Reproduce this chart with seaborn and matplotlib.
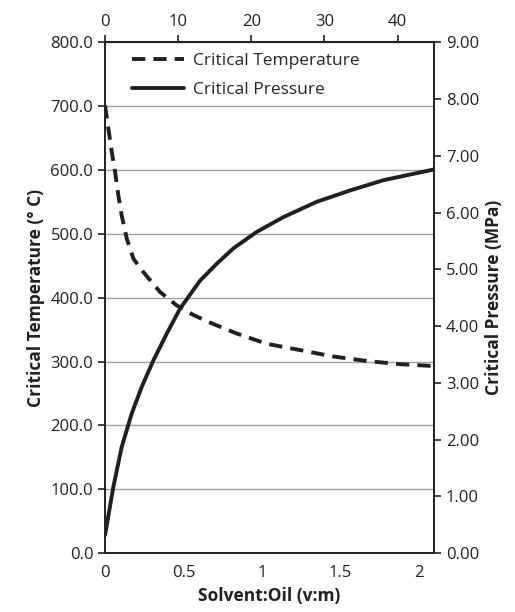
import matplotlib
matplotlib.use("Agg")
import matplotlib.pyplot as plt
import seaborn as sns
import pandas as pd

# values
ratio_t = [0.0, 0.015, 0.043, 0.064, 0.085, 0.106, 0.138, 0.181, 0.245, 0.351,
           0.457, 0.564, 0.66, 0.84, 1.03, 1.245, 1.457, 1.67, 1.88, 2.1]
temp_c = [701, 675, 628, 597, 560, 529, 493, 461, 440, 409,
          388, 373, 362, 344, 328, 318, 308, 301, 296, 293]

ratio_p = [0.0, 0.053, 0.106, 0.170, 0.234, 0.309, 0.394, 0.479, 0.606, 0.713,
           0.819, 0.968, 1.138, 1.351, 1.564, 1.776, 2.1]
press_mpa = [0.32, 1.17, 1.87, 2.46, 2.93, 3.40, 3.87, 4.31, 4.80, 5.10,
             5.37, 5.66, 5.92, 6.19, 6.39, 6.57, 6.76]

top_ticks = [0, 10, 20, 30, 40]

sns.set_style("white")
plt.rcParams['font.family'] = ['Open Sans', 'DejaVu Sans']

dft = pd.DataFrame({"ratio": ratio_t, "temp": temp_c})
dfp = pd.DataFrame({"ratio": ratio_p, "press": press_mpa})

fig = plt.figure(figsize=(5.15, 6.12), dpi=100)
ax = fig.add_axes([0.204, 0.096, 0.639, 0.835])
ax2 = ax.twinx()

sns.lineplot(data=dft, x="ratio", y="temp", ax=ax, color="#231f20", lw=2.8,
             label="Critical Temperature", legend=False)
ax.lines[0].set_dashes([3.4, 2.1])
sns.lineplot(data=dfp, x="ratio", y="press", ax=ax2, color="#231f20", lw=2.8,
             label="Critical Pressure", legend=False)

ax.set_xlim(0, 2.1)
ax.set_ylim(0, 800)
ax2.set_ylim(0, 9)
ax.set_yticks(range(0, 801, 100))
ax.set_yticklabels([f"{v:.1f}" for v in range(0, 801, 100)])
ax2.set_yticks(range(0, 10))
ax2.set_yticklabels([f"{v:.2f}" for v in range(0, 10)])
ax.set_xticks([0, 0.5, 1, 1.5, 2])
ax.set_xticklabels(["0", "0.5", "1", "1.5", "2"])

ax.yaxis.grid(True, color="#a0a0a0", lw=1)
ax.set_axisbelow(True)

top = ax.secondary_xaxis("top", functions=(lambda x: x * 45 / 2.1, lambda x: x * 2.1 / 45))
top.set_xticks(top_ticks)

for a in (ax, ax2):
    for s in a.spines.values():
        s.set_color("#231f20")
        s.set_linewidth(1.2)
for a in (ax, ax2, top):
    a.tick_params(direction="out", length=5, width=1.2, color="#231f20",
                  labelsize=12, labelcolor="#231f20")
top.spines["top"].set_linewidth(1.2)

ax.set_xlabel("Solvent:Oil (v:m)", fontsize=12.5, fontweight="bold", color="#231f20")
ax.set_ylabel("Critical Temperature (° C)", fontsize=12.5, fontweight="bold", color="#231f20")
ax2.set_ylabel("Critical Pressure (MPa)", fontsize=12.5, fontweight="bold", color="#231f20")

h1, l1 = ax.get_legend_handles_labels()
h2, l2 = ax2.get_legend_handles_labels()
ax.legend(h1 + h2, l1 + l2, loc="upper left", frameon=False, fontsize=12.5,
          handlelength=3.0, handletextpad=0.5, borderaxespad=0.2,
          bbox_to_anchor=(0.05, 1.0), labelspacing=0.75)

fig.savefig("out.png", dpi=100)
